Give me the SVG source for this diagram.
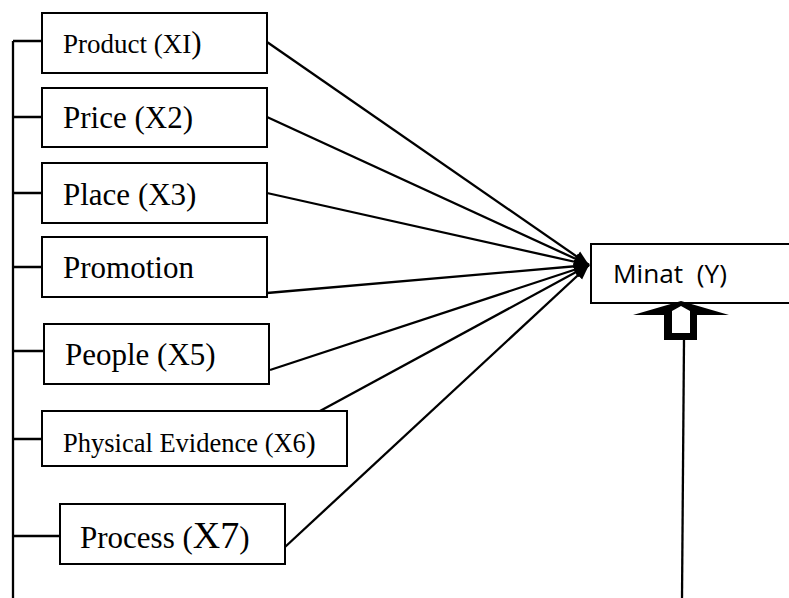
<svg xmlns="http://www.w3.org/2000/svg" width="789" height="598" viewBox="0 0 789 598">
<style>
.box{fill:#fff;stroke:#000;stroke-width:2}
.t{font-family:"Liberation Serif","Times New Roman",serif;fill:#000}
.s{font-family:"Open Sans","Liberation Sans",sans-serif;fill:#000}
.ln{stroke:#000;stroke-width:2.3;fill:none}
</style>
<defs>
<marker id="ah" markerUnits="userSpaceOnUse" markerWidth="18" markerHeight="16" refX="15" refY="7" orient="auto">
<path d="M0,1 L15,7 L0,13 Z" fill="#000"/>
</marker>
</defs>
<g id="connectors">
<path class="ln" d="M13,41 V598 M13,41 H42 M13,117 H42 M13,193 H42 M13,267 H42 M13,351 H44 M13,439 H44 M13,536 H60"/>
<line class="ln" x1="267" y1="42" x2="589" y2="265" marker-end="url(#ah)"/>
<line class="ln" x1="267" y1="117" x2="589" y2="265" marker-end="url(#ah)"/>
<line class="ln" x1="267" y1="193" x2="589" y2="265" marker-end="url(#ah)"/>
<line class="ln" x1="267" y1="293" x2="589" y2="265" marker-end="url(#ah)"/>
<line class="ln" x1="270" y1="370" x2="589" y2="265" marker-end="url(#ah)"/>
<line class="ln" x1="320" y1="411" x2="589" y2="265" marker-end="url(#ah)"/>
<line class="ln" x1="285" y1="547" x2="589" y2="265" marker-end="url(#ah)"/>
<line class="ln" x1="684" y1="340" x2="682" y2="598"/>
</g>
<g id="product">
<rect class="box" x="42" y="13" width="225" height="60"/>
<text class="t" x="63" y="53" font-size="27">Product (XI<tspan font-size="31">)</tspan></text>
</g>
<g id="price">
<rect class="box" x="42" y="88" width="225" height="59"/>
<text class="t" x="63" y="128" font-size="31">Price (X2)</text>
</g>
<g id="place">
<rect class="box" x="42" y="163" width="225" height="60"/>
<text class="t" x="63" y="205" font-size="31">Place (X3)</text>
</g>
<g id="promotion">
<rect class="box" x="42" y="237" width="225" height="60"/>
<text class="t" x="63" y="278" font-size="31">Promotion</text>
</g>
<g id="people">
<rect class="box" x="44" y="324" width="225" height="60"/>
<text class="t" x="65" y="365" font-size="31">People (X5)</text>
</g>
<g id="physical-evidence">
<rect class="box" x="42" y="411" width="305" height="55"/>
<text class="t" x="63" y="452" font-size="26.5">Physical Evidence (X6<tspan font-size="30">)</tspan></text>
</g>
<g id="process">
<rect class="box" x="60" y="504" width="225" height="60"/>
<text class="t" x="80" y="548" font-size="31">Process (<tspan font-size="38">X7</tspan>)</text>
</g>
<g id="minat">
<rect class="box" x="591" y="244" width="220" height="59"/>
<text class="s" x="613" y="283" font-size="25.5" textLength="114" lengthAdjust="spacingAndGlyphs" xml:space="preserve">Minat  (Y)</text>
</g>
<g id="block-arrow">
<polygon points="681,301 729,315 697,315 697,340 664,340 664,315 633,315" fill="#000"/>
<polygon points="681,306 690,311 690,333 672,333 672,311" fill="#fff"/>
</g>
</svg>
